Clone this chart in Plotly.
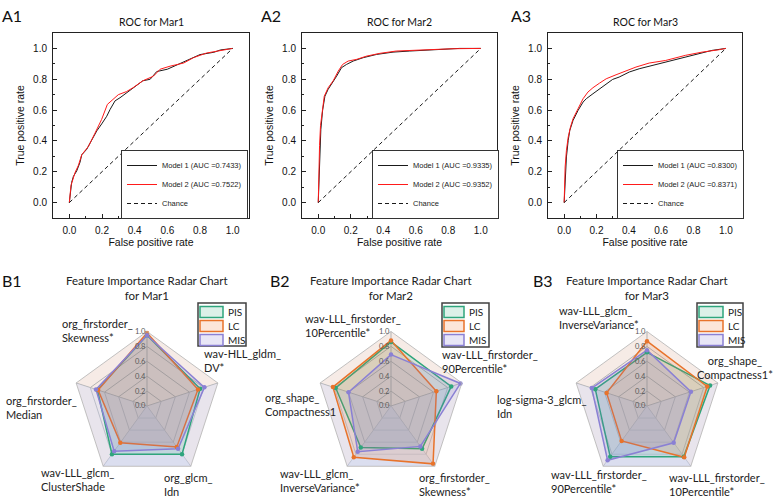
import plotly.graph_objects as go

W, H = 781, 500


def px(x):
    return x / W


def py(y):
    return 1 - y / H


# ---------------- ROC data ----------------
roc_titles = ["ROC for Mar1", "ROC for Mar2", "ROC for Mar3"]
roc_panels = ["A1", "A2", "A3"]
auc_model1 = ["0.7433", "0.9335", "0.8300"]
auc_model2 = ["0.7522", "0.9352", "0.8371"]

roc1_m1_fpr = [0, 0.014, 0.025, 0.045, 0.065, 0.076, 0.106, 0.137, 0.168, 0.198, 0.229, 0.25, 0.28,
               0.31, 0.35, 0.39, 0.45, 0.495, 0.535, 0.6, 0.66, 0.72, 0.8, 0.885, 0.925, 1.0]
roc1_m1_tpr = [0, 0.13, 0.17, 0.205, 0.26, 0.31, 0.345, 0.41, 0.465, 0.51, 0.56, 0.605, 0.66,
               0.68, 0.71, 0.745, 0.79, 0.80, 0.85, 0.865, 0.895, 0.92, 0.96, 0.975, 0.99, 1.0]
roc1_m2_fpr = [0, 0.01, 0.035, 0.055, 0.076, 0.117, 0.157, 0.198, 0.233, 0.27, 0.30, 0.35, 0.39,
               0.45, 0.515, 0.556, 0.617, 0.70, 0.76, 0.84, 0.925, 1.0]
roc1_m2_tpr = [0, 0.11, 0.195, 0.24, 0.31, 0.365, 0.45, 0.54, 0.637, 0.67, 0.70, 0.72, 0.745,
               0.79, 0.82, 0.865, 0.885, 0.905, 0.94, 0.97, 0.985, 1.0]

roc2_m1_fpr = [0, 0.006, 0.01, 0.016, 0.027, 0.041, 0.061, 0.082, 0.113, 0.143, 0.174, 0.215,
               0.277, 0.359, 0.46, 0.563, 0.666, 0.789, 0.87, 1.0]
roc2_m1_tpr = [0, 0.195, 0.37, 0.475, 0.60, 0.69, 0.735, 0.767, 0.82, 0.875, 0.896, 0.918,
               0.94, 0.961, 0.976, 0.983, 0.989, 0.996, 1.0, 1.0]
roc2_m2_fpr = [0, 0.004, 0.008, 0.014, 0.025, 0.037, 0.061, 0.092, 0.123, 0.15, 0.184, 0.236,
               0.297, 0.379, 0.48, 0.584, 0.707, 0.83, 1.0]
roc2_m2_tpr = [0, 0.24, 0.37, 0.50, 0.60, 0.69, 0.745, 0.79, 0.853, 0.896, 0.918, 0.929,
               0.95, 0.968, 0.983, 0.987, 0.994, 0.998, 1.0]

roc3_m1_fpr = [0, 0.006, 0.014, 0.025, 0.035, 0.055, 0.086, 0.117, 0.137, 0.178, 0.219, 0.26,
               0.30, 0.34, 0.403, 0.464, 0.546, 0.628, 0.75, 0.832, 0.914, 1.0]
roc3_m1_tpr = [0, 0.188, 0.296, 0.404, 0.469, 0.533, 0.598, 0.652, 0.674, 0.706, 0.739, 0.771,
               0.799, 0.814, 0.847, 0.868, 0.89, 0.911, 0.944, 0.965, 0.987, 1.0]
roc3_m2_fpr = [0, 0.006, 0.014, 0.025, 0.039, 0.055, 0.086, 0.117, 0.147, 0.178, 0.219, 0.26,
               0.321, 0.382, 0.444, 0.526, 0.628, 0.75, 0.853, 0.955, 1.0]
roc3_m2_tpr = [0, 0.231, 0.339, 0.425, 0.49, 0.544, 0.609, 0.674, 0.717, 0.745, 0.775, 0.803,
               0.829, 0.853, 0.879, 0.905, 0.922, 0.955, 0.976, 0.991, 1.0]

chance_x = [0, 1]
chance_y = [0, 1]
axis_ticks = [0.0, 0.2, 0.4, 0.6, 0.8, 1.0]

# ---------------- Radar data ----------------
radar_titles = ["Feature Importance Radar Chart<br>for Mar1",
                "Feature Importance Radar Chart<br>for Mar2",
                "Feature Importance Radar Chart<br>for Mar3"]
radar_panels = ["B1", "B2", "B3"]
series_names = ["PIS", "LC", "MIS"]

radar1_features = ["org_firstorder_<br>Skewness*", "wav-HLL_gldm_<br>DV*", "org_glcm_<br>Idn",
                   "wav-LLL_glcm_<br>ClusterShade", "org_firstorder_<br>Median"]
radar1_pis = [0.95, 0.75, 0.80, 0.80, 0.70]
radar1_lc = [0.98, 0.72, 0.68, 0.61, 0.69]
radar1_mis = [0.95, 0.81, 0.71, 0.75, 0.72]

radar2_features = ["wav-LLL_firstorder_<br>10Percentile*", "wav-LLL_firstorder_<br>90Percentile*",
                   "org_firstorder_<br>Skewness*", "wav-LLL_glcm_<br>InverseVariance*",
                   "org_shape_<br>Compactness1"]
radar2_pis = [0.86, 0.85, 0.71, 0.69, 0.78]
radar2_lc = [0.88, 0.64, 0.96, 0.85, 0.82]
radar2_mis = [0.69, 0.98, 0.67, 0.76, 0.60]

radar3_features = ["wav-LLL_glcm_<br>InverseVariance*", "org_shape_<br>Compactness1*",
                   "wav-LLL_firstorder_<br>10Percentile*", "wav-LLL_firstorder_<br>90Percentile*",
                   "log-sigma-3_glcm_<br>Idn"]
radar3_pis = [0.72, 0.89, 0.84, 0.84, 0.73]
radar3_lc = [0.87, 0.85, 0.85, 0.58, 0.57]
radar3_mis = [0.75, 0.62, 0.61, 0.90, 0.78]
radial_ticks = [0.0, 0.2, 0.4, 0.6, 0.8, 1.0]

# ---------------- styles / layout geometry ----------------
ROC_FONT = "Liberation Sans, Arial, sans-serif"
RAD_FONT = "Lato, Open Sans, sans-serif"
series_line = ["#2fa57c", "#e8732b", "#8a80d4"]
series_fill = ["rgba(60,165,130,0.16)", "rgba(232,120,50,0.16)", "rgba(125,115,205,0.16)"]
series_swatch = ["#dcf0e8", "#fce6d9", "#e8e6f6"]

roc_xdom = [(53, 249), (302, 497), (548, 742)]
roc_ydom = (33, 218)
roc_leg = [(121, 150), (372, 150), (617, 150)]

radar_center = [(147, 406), (391, 406), (647, 406)]
radar_R = 74.5
# legend box (x0, x1, y0, y1) and swatch x-range
radar_leg_box = [(198, 246, 303, 346), (442, 489, 303, 347), (697, 743, 303, 347)]
radar_leg_sw = [(200, 223), (444, 464), (699, 723)]
radar_leg_rows = [312, 326, 340]
# label anchor (x, y, xanchor) for the five spokes of each radar, in pixels
radar_label_pos = [
    [(60, 330, "left"), (202, 360, "left"), (162, 484, "left"), (39, 479, "left"), (4, 407, "left")],
    [(303, 325, "left"), (440, 361, "left"), (417, 484, "left"), (278, 480, "left"), (263, 404, "left")],
    [(557, 317, "left"), (735, 367, "center"), (667, 484, "left"), (549, 481, "left"), (495, 406, "left")],
]

fig = go.Figure()

roc_sets = [
    (roc1_m1_fpr, roc1_m1_tpr, roc1_m2_fpr, roc1_m2_tpr),
    (roc2_m1_fpr, roc2_m1_tpr, roc2_m2_fpr, roc2_m2_tpr),
    (roc3_m1_fpr, roc3_m1_tpr, roc3_m2_fpr, roc3_m2_tpr),
]

annotations = []
shapes = []
layout_extra = {}

for i, (f1, t1, f2, t2) in enumerate(roc_sets):
    xa = "x" if i == 0 else f"x{i+1}"
    ya = "y" if i == 0 else f"y{i+1}"
    leg = "legend" if i == 0 else f"legend{i+1}"
    fig.add_trace(go.Scatter(x=f1, y=t1, mode="lines", name=f"Model 1 (AUC ={auc_model1[i]})",
                             line=dict(color="#1a1a1a", width=1), xaxis=xa, yaxis=ya, legend=leg))
    fig.add_trace(go.Scatter(x=f2, y=t2, mode="lines", name=f"Model 2 (AUC ={auc_model2[i]})",
                             line=dict(color="#ff1a1a", width=1), xaxis=xa, yaxis=ya, legend=leg))
    fig.add_trace(go.Scatter(x=chance_x, y=chance_y, mode="lines", name="Chance",
                             line=dict(color="#1a1a1a", width=1, dash="4px,3px"),
                             xaxis=xa, yaxis=ya, legend=leg))
    axis_common = dict(range=[-0.1, 1.1], tickvals=axis_ticks, tickformat=".1f",
                       ticks="inside", ticklen=4, tickcolor="#222", showline=True, mirror=True,
                       linecolor="#222", linewidth=1, showgrid=False, zeroline=False,
                       ticklabelstandoff=3,
                       tickfont=dict(family=ROC_FONT, size=10, color="#111"),
                       minor=dict(ticks="inside", ticklen=2, dtick=0.1, tick0=0, tickcolor="#222"))
    xk = "xaxis" if i == 0 else f"xaxis{i+1}"
    yk = "yaxis" if i == 0 else f"yaxis{i+1}"
    layout_extra[xk] = dict(axis_common, domain=[px(roc_xdom[i][0]), px(roc_xdom[i][1])],
                            anchor=ya,
                            title=dict(text="False positive rate", standoff=2,
                                       font=dict(family=ROC_FONT, size=10.5, color="#111")))
    layout_extra[yk] = dict(axis_common, domain=[py(roc_ydom[1]), py(roc_ydom[0])],
                            anchor=xa,
                            title=dict(text="True positive rate", standoff=6,
                                       font=dict(family=ROC_FONT, size=10.5, color="#111")))
    layout_extra[leg] = dict(x=px(roc_leg[i][0]), y=py(roc_leg[i][1]), xanchor="left", yanchor="top",
                             bgcolor="white", bordercolor="#333", borderwidth=1,
                             font=dict(family=ROC_FONT, size=7.5, color="#222"),
                             tracegroupgap=0, itemwidth=30)
    cx = (roc_xdom[i][0] + roc_xdom[i][1]) / 2
    annotations.append(dict(text=roc_titles[i], x=px(cx), y=py(22), xref="paper", yref="paper",
                            showarrow=False, xanchor="center", yanchor="middle",
                            font=dict(family=RAD_FONT, size=10.5, color="#111")))
    annotations.append(dict(text=roc_panels[i], x=px([0, 259, 509][i]), y=py(15), xref="paper",
                            yref="paper", showarrow=False, xanchor="left", yanchor="middle",
                            font=dict(family=RAD_FONT, size=16, color="#111")))

radar_sets = [
    (radar1_features, [radar1_pis, radar1_lc, radar1_mis]),
    (radar2_features, [radar2_pis, radar2_lc, radar2_mis]),
    (radar3_features, [radar3_pis, radar3_lc, radar3_mis]),
]

for i, (feats, vals) in enumerate(radar_sets):
    pk = "polar" if i == 0 else f"polar{i+1}"
    # soft background wash: lower sectors tinted blue (edges run along the spokes)
    fig.add_trace(go.Scatterpolar(r=[1, 1, 1, 1, 0], theta=[feats[1], feats[2], feats[3], feats[4], feats[4]],
                                  mode="none", fill="toself", fillcolor="rgba(205,215,245,0.35)",
                                  hoverinfo="skip", showlegend=False, subplot=pk))
    fig.add_trace(go.Scatterpolar(r=[1, 1, 0], theta=[feats[2], feats[3], feats[3]],
                                  mode="none", fill="toself", fillcolor="rgba(205,215,245,0.45)",
                                  hoverinfo="skip", showlegend=False, subplot=pk))
    theta = feats + [feats[0]]
    for s in range(3):
        r = vals[s] + [vals[s][0]]
        fig.add_trace(go.Scatterpolar(r=r, theta=theta, mode="lines", fill="toself",
                                      fillcolor=series_fill[s], name=series_names[s],
                                      line=dict(color=series_line[s], width=1.5),
                                      showlegend=False, subplot=pk))
    for s in range(3):
        fig.add_trace(go.Scatterpolar(r=vals[s], theta=feats, mode="markers", showlegend=False,
                                      marker=dict(color=series_line[s], size=4.5, symbol="circle"),
                                      subplot=pk))
    cx, cy = radar_center[i]
    layout_extra[pk] = dict(
        domain=dict(x=[px(cx - radar_R), px(cx + radar_R)], y=[py(cy + radar_R), py(cy - radar_R)]),
        bgcolor="#f6ebe6", gridshape="linear",
        radialaxis=dict(range=[0, 1], tickvals=radial_ticks, tickformat=".1f", angle=90,
                        tickangle=90, side="counterclockwise", showline=False, ticks="",
                        tickfont=dict(family=RAD_FONT, size=7.5, color="#595959"),
                        gridcolor="#b3b3b3", gridwidth=0.8),
        angularaxis=dict(direction="clockwise", rotation=90, showticklabels=False, ticks="",
                         categoryorder="array", categoryarray=feats,
                         linecolor="#b3b3b3", linewidth=0.8, gridcolor="#b3b3b3", gridwidth=0.8),
    )
    # key box for the three series
    bx0, bx1, by0, by1 = radar_leg_box[i]
    shapes.append(dict(type="rect", xref="paper", yref="paper", x0=px(bx0), x1=px(bx1),
                       y0=py(by1), y1=py(by0), line=dict(color="#404040", width=1.5),
                       fillcolor="white", layer="above"))
    sx0, sx1 = radar_leg_sw[i]
    for s in range(3):
        ry = radar_leg_rows[s]
        shapes.append(dict(type="rect", xref="paper", yref="paper", x0=px(sx0), x1=px(sx1),
                           y0=py(ry + 5.5), y1=py(ry - 5.5),
                           line=dict(color=series_line[s], width=1.5),
                           fillcolor=series_swatch[s], layer="above"))
        annotations.append(dict(text=series_names[s], x=px(sx1 + 3), y=py(ry), xref="paper",
                                yref="paper", showarrow=False, xanchor="left", yanchor="middle",
                                font=dict(family=RAD_FONT, size=10, color="#222")))
    annotations.append(dict(text=radar_titles[i], x=px(cx), y=py(288), xref="paper", yref="paper",
                            showarrow=False, xanchor="center", yanchor="middle",
                            font=dict(family=RAD_FONT, size=11.5, color="#222")))
    annotations.append(dict(text=radar_panels[i], x=px([0, 268, 531][i]), y=py(280), xref="paper",
                            yref="paper", showarrow=False, xanchor="left", yanchor="middle",
                            font=dict(family=RAD_FONT, size=16, color="#111")))
    for k, feat in enumerate(feats):
        lx, ly, anc = radar_label_pos[i][k]
        annotations.append(dict(text=feat, x=px(lx), y=py(ly), xref="paper", yref="paper",
                                showarrow=False, xanchor=anc, yanchor="middle",
                                align="left" if anc == "left" else "center",
                                font=dict(family=RAD_FONT, size=11, color="#222")))

fig.update_layout(
    width=W, height=H, margin=dict(l=0, r=0, t=0, b=0),
    paper_bgcolor="white", plot_bgcolor="white",
    annotations=annotations, shapes=shapes, **layout_extra,
)

fig.write_html("out.html", config={"displayModeBar": False},
               post_script="document.body.style.margin='0';document.body.style.padding='0';")
